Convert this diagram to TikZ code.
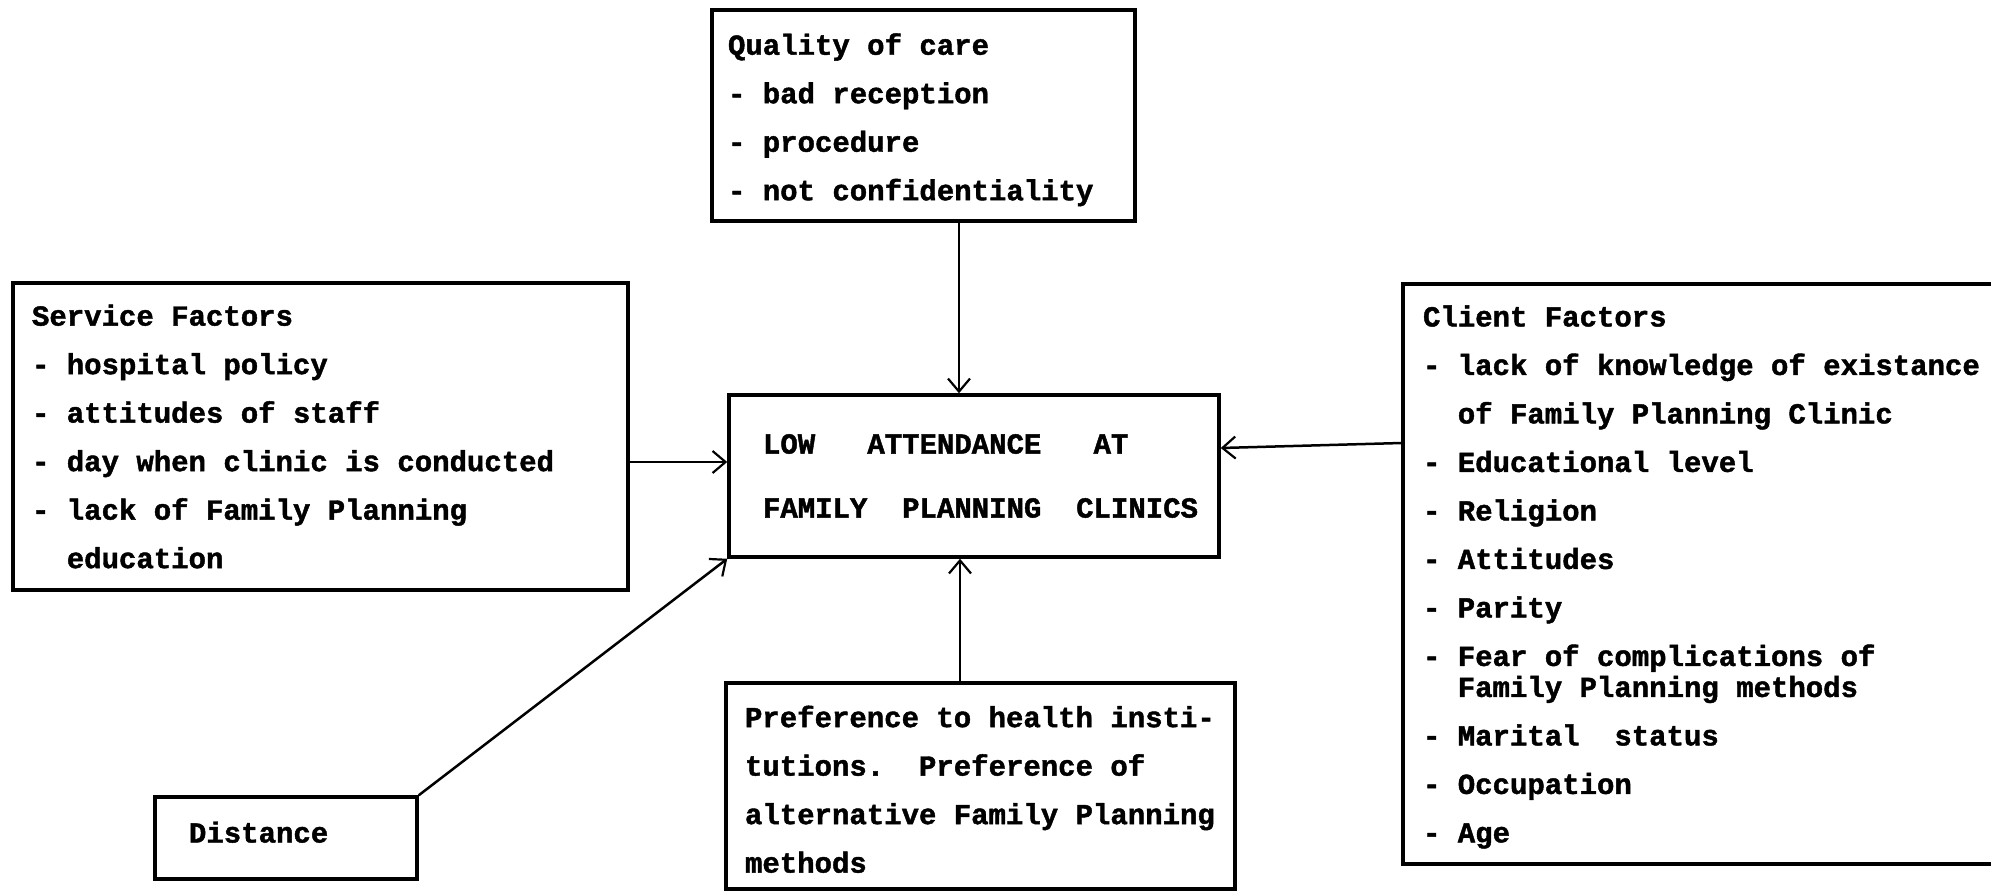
\documentclass[tikz,border=0pt]{standalone}
\usepackage{fontspec}
\newfontfamily\tw{Liberation Mono}[BoldFeatures={FakeBold=1.5}]
\usetikzlibrary{arrows.meta,calc}
\newcommand\twfont{\tw\bfseries\fontsize{29}{48.5}\selectfont}
\tikzset{
  box/.style={draw, line width=3.5pt, rectangle, inner ysep=0pt, align=left,
    font=\twfont,
    execute at begin node={\spaceskip=17.4pt plus 0pt minus 0pt\xspaceskip=17.4pt plus 0pt minus 0pt\relax}},
  conn/.style={line width=2.5pt, -{Straight Barb[length=13pt,width=22pt,line width=2.2pt]}},
}
\begin{document}
\begin{tikzpicture}[x=1pt,y=-1pt]
\fill[white] (0,0) rectangle (1991,892);
\useasboundingbox (0,0) rectangle (1991,892);
\clip (0,0) rectangle (1991,892);

\node[box, minimum width=423pt, minimum height=211pt, text width=391pt, inner xsep=16pt]
  (qual) at (923.5,115.5)
  {\rule{0pt}{30pt}Quality of care\\- bad reception\\- procedure\\- not confidentiality};

\node[box, minimum width=615pt, minimum height=307pt, text width=577pt, inner xsep=19pt]
  (serv) at (320.5,436.5)
  {Service Factors\\- hospital policy\\- attitudes of staff\\- day when clinic is conducted\\- lack of Family Planning\\\phantom{- }education};

\node[box, minimum width=490pt, minimum height=162pt, text width=422pt, inner xsep=34pt]
  (cen) at (974,476)
  {LOW~~~ATTENDANCE~~~AT\\[15.5pt]\rlap{FAMILY~~PLANNING~~CLINICS}};

\node[box, minimum width=607pt, minimum height=580pt, text width=567pt, inner xsep=20pt]
  (client) at (1706.5,574)
  {\rule{0pt}{27pt}Client Factors\\- lack of knowledge of existance\\\phantom{- }of Family Planning Clinic\\- Educational level\\- Religion\\- Attitudes\\- Parity\\- Fear of complications of\\[-17.5pt]\phantom{- }Family Planning methods\\- Marital~~status\\- Occupation\\- Age};

\node[box, minimum width=509pt, minimum height=206pt, text width=471pt, inner xsep=19pt]
  (bot) at (980.5,786)
  {\rule{0pt}{28pt}Preference to health insti-\\tutions.~~Preference of\\alternative Family Planning\\methods};

\node[box, minimum width=262pt, minimum height=82pt, text width=194pt, inner xsep=34pt]
  (dist) at (286,838)
  {\raisebox{12pt}{Distance}};

\draw[conn] ($(qual.south)+(35.5,0)$) -- ($(cen.north)+(-15,0)$);
\draw[conn] ($(bot.north)+(-20.5,0)$) -- ($(cen.south)+(-14,0)$);
\draw[conn] ($(serv.east)+(0,25.5)$) -- ($(cen.west)+(0,-14)$);
\draw[conn] ($(client.west)+(0,-131)$) -- ($(cen.east)+(0,-28)$);
\draw[conn] (dist.north east) -- (cen.south west);
\end{tikzpicture}
\end{document}
